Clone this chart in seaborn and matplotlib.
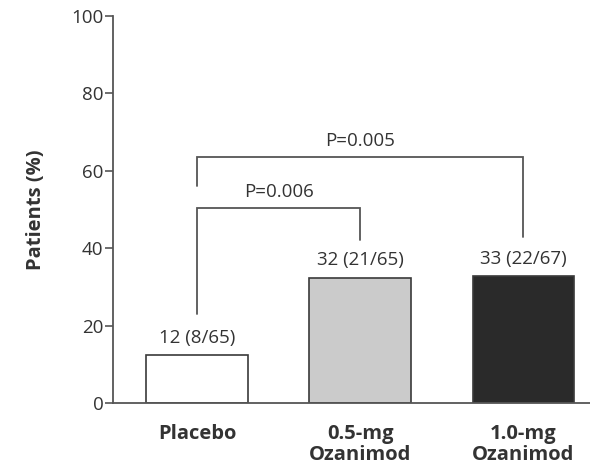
import pandas as pd
import numpy as np
import matplotlib
matplotlib.use("Agg")
import matplotlib.pyplot as plt
import seaborn as sns

# Data
groups = ["Placebo", "0.5-mg\nOzanimod", "1.0-mg\nOzanimod"]
percent = [12.3, 32.3, 32.8]
bar_labels = ["12 (8/65)", "32 (21/65)", "33 (22/67)"]
bar_colors = ["#ffffff", "#cbcbcb", "#2a2a2a"]
yticks = [0, 20, 40, 60, 80, 100]

# comparisons: (from group, to group, bracket height, left leg bottom, right leg bottom, text)
comparisons = [
    (0, 1, 50.5, 23.0, 42.0, "P=0.006"),
    (0, 2, 63.5, 56.0, 43.0, "P=0.005"),
]

sns.set_style("white")
plt.rcParams["font.family"] = ["Open Sans", "DejaVu Sans"]

df = pd.DataFrame({"group": groups, "percent": percent})

fig = plt.figure(figsize=(5.9, 4.7), dpi=100)
ax = fig.add_axes([0.1915, 0.1426, 0.8085, 0.8234])

sns.barplot(data=df, x="group", y="percent", hue="group", palette=bar_colors,
            width=0.62, edgecolor="#3a3a3a", linewidth=1.2, legend=False, ax=ax)

line_col = "#555555"
for i, (val, lab) in enumerate(zip(percent, bar_labels)):
    ax.text(i, val + 2.2, lab, ha="center", va="bottom", fontsize=13.5, color="#333333")

for a, b, h, la, lb, txt in comparisons:
    ax.plot([a, a, b, b], [la, h, h, lb], color=line_col, lw=1.3, solid_joinstyle="miter")
    ax.text((a + b) / 2, h + 1.8, txt, ha="center", va="bottom", fontsize=13.5, color="#333333")

ax.set_ylim(0, 100)
ax.set_xlim(-0.515, 2.41)
ax.set_yticks(yticks)
ax.set_xlabel("")
ax.set_ylabel("Patients (%)", fontsize=14.5, fontweight="bold", color="#333333", labelpad=18)
ax.tick_params(axis="y", length=6, width=1.2, color=line_col, labelsize=13.5, labelcolor="#333333",
               left=True, direction="out", pad=1)
ax.tick_params(axis="x", length=0, labelsize=14.5, labelcolor="#333333", pad=15)
for lab in ax.get_xticklabels():
    lab.set_fontweight("bold")
    lab.set_linespacing(1.05)

sns.despine(ax=ax)
for side in ["left", "bottom"]:
    ax.spines[side].set_color(line_col)
    ax.spines[side].set_linewidth(1.3)

fig.savefig("out.png", dpi=100)
